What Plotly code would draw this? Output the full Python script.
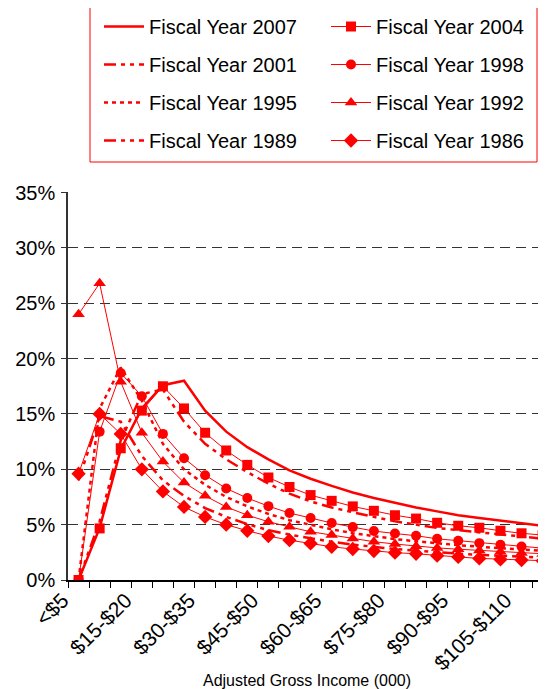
import plotly.graph_objects as go

categories = ["<$5", "$5-$10", "$10-$15", "$15-$20", "$20-$25", "$25-$30", "$30-$35",
              "$35-$40", "$40-$45", "$45-$50", "$50-$55", "$55-$60", "$60-$65",
              "$65-$70", "$70-$75", "$75-$80", "$80-$85", "$85-$90", "$90-$95",
              "$95-$100", "$100-$105", "$105-$110", "$110-$115", "$115-$120"]

fy2007 = [0, 4.7, 11.8, 15.5, 17.6, 18.0, 15.3, 13.4, 12.0, 10.9, 9.9, 9.15, 8.5, 7.9,
          7.4, 6.95, 6.55, 6.2, 5.85, 5.6, 5.35, 5.1, 4.85, 4.65]
fy2004 = [0, 4.66, 11.9, 15.3, 17.5, 15.5, 13.3, 11.7, 10.4, 9.26, 8.4, 7.67, 7.15, 6.65,
          6.25, 5.85, 5.55, 5.17, 4.9, 4.72, 4.45, 4.22, 4.06, 3.9]
fy2001 = [0, 5.3, 12.6, 16.8, 17.2, 14.3, 12.3, 10.9, 9.75, 8.7, 7.8, 7.1, 6.55, 6.1,
          5.7, 5.3, 5.0, 4.7, 4.5, 4.3, 4.08, 3.88, 3.7, 3.55]
fy1998 = [0, 13.4, 18.7, 16.6, 13.2, 11.0, 9.47, 8.27, 7.4, 6.67, 6.05, 5.6, 5.15, 4.78,
          4.42, 4.2, 4.0, 3.72, 3.55, 3.33, 3.18, 3.02, 2.88, 2.78]
fy1995 = [0, 15.5, 19.2, 16.2, 12.3, 10.0, 8.6, 7.5, 6.65, 5.97, 5.4, 4.96, 4.58, 4.23,
          3.95, 3.7, 3.5, 3.3, 3.15, 3.0, 2.87, 2.75, 2.62, 2.52]
fy1992 = [24.0, 26.8, 17.9, 13.3, 10.7, 8.8, 7.6, 6.6, 5.86, 5.26, 4.8, 4.36, 4.06, 3.76,
          3.46, 3.25, 3.05, 2.9, 2.78, 2.66, 2.55, 2.45, 2.35, 2.27]
fy1989 = [9.0, 14.8, 14.3, 11.2, 9.0, 7.6, 6.5, 5.7, 5.05, 4.5, 4.1, 3.75, 3.45, 3.2,
          2.98, 2.8, 2.65, 2.5, 2.38, 2.27, 2.17, 2.08, 2.0, 1.93]
fy1986 = [9.6, 15.0, 13.2, 10.0, 8.0, 6.6, 5.7, 5.0, 4.45, 3.97, 3.6, 3.3, 3.0, 2.8,
          2.62, 2.47, 2.37, 2.2, 2.08, 1.95, 1.86, 1.8, 1.74, 1.68]

tick_every = 3
y_ticks = [0, 5, 10, 15, 20, 25, 30, 35]

RED = "#FF0000"
FONT = "Liberation Sans, Arial, sans-serif"
x = list(range(len(categories)))

series = [
    # name, values, legend, line width, dash, marker symbol
    ("Fiscal Year 2007", fy2007, "legend", 2.5, "solid", None),
    ("Fiscal Year 2001", fy2001, "legend", 2.5, "12px,5px,4px,5px,4px,5px", None),
    ("Fiscal Year 1995", fy1995, "legend", 2.5, "4px,4px", None),
    ("Fiscal Year 1989", fy1989, "legend", 2.5, "12px,5px,4px,5px,4px,5px", None),
    ("Fiscal Year 2004", fy2004, "legend2", 1, "solid", "square"),
    ("Fiscal Year 1998", fy1998, "legend2", 1, "solid", "circle"),
    ("Fiscal Year 1992", fy1992, "legend2", 1, "solid", "triangle-up"),
    ("Fiscal Year 1986", fy1986, "legend2", 1, "solid", "diamond"),
]

fig = go.Figure()
for name, vals, leg, lw, dash, sym in series:
    kw = dict(mode="lines")
    if sym is not None:
        kw = dict(mode="lines+markers",
                  marker=dict(symbol=sym, size=10 if sym in ("square", "circle") else 11,
                              color=RED))
    fig.add_trace(go.Scatter(
        x=x, y=vals, name=name, legend=leg, legendgroup=name,
        line=dict(color=RED, width=lw, dash=dash), cliponaxis=True, **kw))

# the page places the figure 8px in from the top-left corner
OFF = 8
W, H = 546 - OFF, 689 - OFF
ml, mr, mt, mb = 68 - OFF, 0, 192 - OFF, 109
pw, ph = W - ml - mr, H - mt - mb


def px_x(p):
    return (p - OFF - ml) / pw


def px_y(p):
    return (H - mb - (p - OFF)) / ph


fig.update_layout(
    width=W, height=H,
    margin=dict(l=ml, r=mr, t=mt, b=mb, pad=0, autoexpand=False),
    paper_bgcolor="white", plot_bgcolor="white",
    font=dict(family=FONT, size=19, color="black"),
    legend=dict(x=px_x(99), y=px_y(7), xanchor="left", yanchor="top",
                font=dict(size=20, family=FONT), tracegroupgap=9,
                bgcolor="rgba(0,0,0,0)", itemwidth=40),
    legend2=dict(x=px_x(326), y=px_y(7), xanchor="left", yanchor="top",
                 font=dict(size=20, family=FONT), tracegroupgap=9,
                 bgcolor="rgba(0,0,0,0)", itemwidth=40),
    xaxis=dict(
        range=[-0.5, 22.16],
        tickmode="array",
        tickvals=x[::tick_every],
        ticktext=categories[::tick_every],
        tickangle=-45, ticks="", ticklabelshift=-16, ticklabelstandoff=-2,
        tickfont=dict(size=21, family=FONT),
        showgrid=False, zeroline=False, automargin=False,
        showline=True, linecolor="black", linewidth=1.5,
        minor=dict(tickmode="linear", tick0=0.5, dtick=1, ticks="outside",
                   ticklen=6, tickcolor="black", tickwidth=1, showgrid=False),
        title=dict(text="Adjusted Gross Income (000)", font=dict(size=16, family=FONT),
                   standoff=4),
    ),
    yaxis=dict(
        range=[0, 35.05], automargin=False,
        tickmode="array", tickvals=y_ticks,
        ticktext=[f"{v}%" for v in y_ticks],
        ticks="outside", ticklen=5, tickcolor="#333", tickwidth=1,
        ticklabelstandoff=2,
        tickfont=dict(size=20, family=FONT),
        showgrid=True, gridcolor="#333333", gridwidth=1, griddash="10px,6px",
        zeroline=False, showline=True, linecolor="#333", linewidth=1.5,
    ),
    shapes=[dict(type="rect", xref="paper", yref="paper",
                 x0=px_x(90), x1=px_x(537), y0=px_y(162), y1=px_y(5),
                 line=dict(color=RED, width=1), fillcolor="rgba(0,0,0,0)")],
)

fig.write_html("out.html")
